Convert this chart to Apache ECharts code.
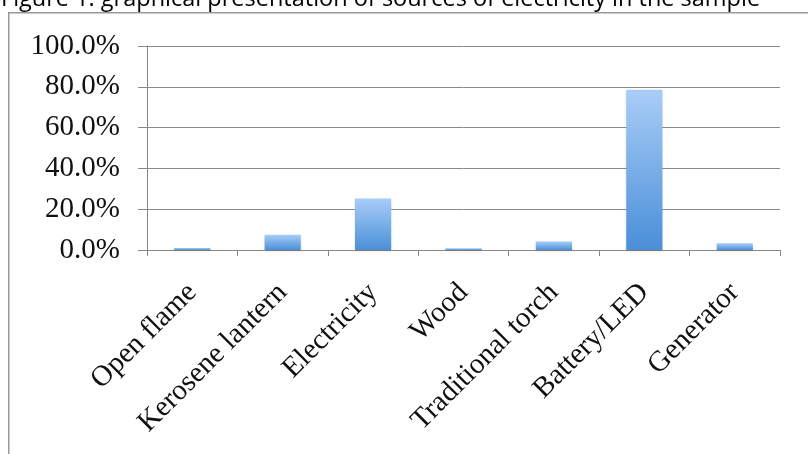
<!DOCTYPE html>
<html>
<head>
<meta charset="utf-8">
<script src="https://cdn.jsdelivr.net/npm/echarts@6/dist/echarts.min.js"></script>
<style>
  html, body { margin: 0; padding: 0; background: #fff; }
  #chart { width: 808px; height: 454px; }
</style>
</head>
<body>
<div id="chart"></div>
<script>
// categories and shares (%)
var categories = ["Open flame", "Kerosene lantern", "Electricity", "Wood", "Traditional torch", "Battery/LED", "Generator"];
var shares = [1.0, 7.5, 25.2, 0.8, 4.2, 78.6, 3.3];
var yTicks = [0, 20, 40, 60, 80, 100];

var titleText = "Figure 1: graphical presentation of sources of electricity in the sample";

var myChart = echarts.init(document.getElementById("chart"));

var option = {
  animation: false,
  title: {
    text: titleText,
    left: -4,
    top: -18,
    textStyle: {
      fontFamily: "Open Sans",
      fontSize: 23.5,
      fontWeight: "normal",
      color: "#000"
    }
  },
  graphic: [{
    // outer chart frame, runs off the right and bottom edges
    type: "rect",
    left: 8,
    top: 12,
    z: 100,
    shape: { x: 0, y: 0, width: 830, height: 470 },
    style: { fill: "transparent", stroke: "#999", lineWidth: 1.5 },
    silent: true
  }],
  grid: {
    left: 147,
    right: 28,
    top: 46,
    bottom: 204,
    containLabel: false
  },
  xAxis: {
    type: "category",
    data: categories,
    axisLine: { lineStyle: { color: "#888", width: 1 } },
    axisTick: { show: true, length: 6, lineStyle: { color: "#888" } },
    axisLabel: {
      interval: 0,
      rotate: 45,
      margin: 38,
      color: "#111",
      fontFamily: "Liberation Serif",
      fontSize: 29
    }
  },
  yAxis: {
    type: "value",
    min: yTicks[0],
    max: yTicks[yTicks.length - 1],
    interval: 20,
    axisLine: { show: true, lineStyle: { color: "#888" } },
    axisTick: { show: true, length: 9, lineStyle: { color: "#888" } },
    splitLine: { lineStyle: { color: "#8a8a8a", width: 1 } },
    axisLabel: {
      margin: 27,
      color: "#111",
      fontFamily: "Liberation Serif",
      fontSize: 29,
      formatter: function (v) { return v.toFixed(1) + "%"; }
    }
  },
  series: [{
    type: "bar",
    data: shares,
    barWidth: "40%",
    itemStyle: {
      color: new echarts.graphic.LinearGradient(0, 0, 0, 1, [
        { offset: 0, color: "#a9cdf7" },
        { offset: 1, color: "#4a8fd8" }
      ]),
      shadowColor: "rgba(0,0,0,0.15)",
      shadowBlur: 2,
      shadowOffsetY: 1
    }
  }]
};

myChart.setOption(option);
</script>
</body>
</html>
